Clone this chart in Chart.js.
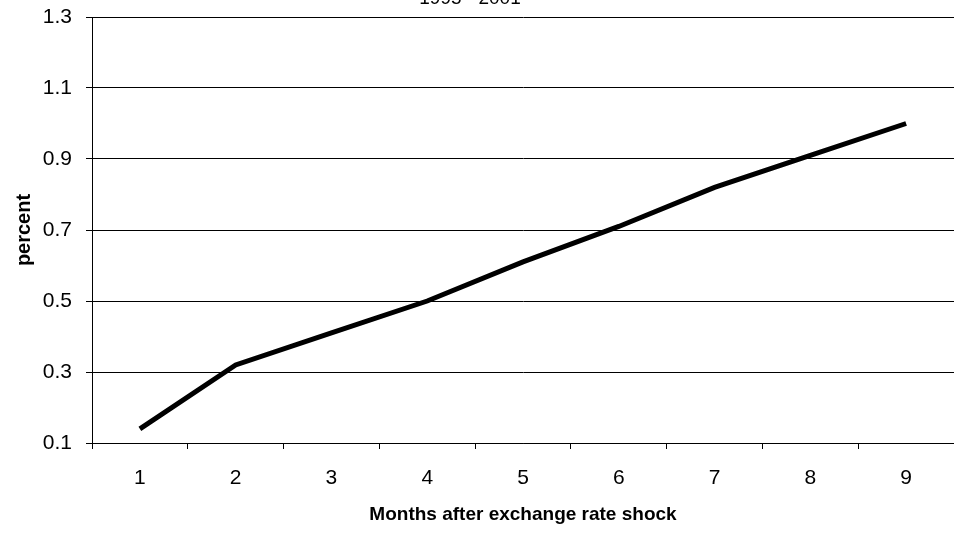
<!DOCTYPE html>
<html>
<head>
<meta charset="utf-8">
<script src="https://cdn.jsdelivr.net/npm/chart.js@4/dist/chart.umd.min.js"></script>
<style>
  html, body { margin: 0; padding: 0; background: #fff; }
  #wrap { width: 954px; height: 533px; }
</style>
</head>
<body>
<div id="wrap"><canvas id="shockChart"></canvas></div>
<script>
// 為替ショック後の月数と変化率
const months = ['1', '2', '3', '4', '5', '6', '7', '8', '9'];
const passThrough = [0.14, 0.32, 0.41, 0.50, 0.61, 0.71, 0.82, 0.91, 1.00];
const yTicks = [0.1, 0.3, 0.5, 0.7, 0.9, 1.1, 1.3];
const topTitle = '1995 - 2001';

// 上端で切れているタイトル
const cutTitle = {
  id: 'cutTitle',
  afterDraw(chart) {
    const c = chart.ctx;
    c.save();
    c.fillStyle = '#000';
    c.font = '19px "Liberation Sans", Arial, sans-serif';
    c.textAlign = 'center';
    c.textBaseline = 'bottom';
    c.fillText(topTitle, 470, 8);
    c.restore();
  }
};

let ctx = document.getElementById('shockChart').getContext('2d');
window.shockChart = new Chart(ctx, {
  type: 'line',
  data: {
    labels: months,
    datasets: [{
      data: passThrough,
      borderColor: '#000',
      borderWidth: 5,
      pointRadius: 0,
      tension: 0,
      fill: false
    }]
  },
  options: {
    animation: false,
    responsive: true,
    maintainAspectRatio: false,
    layout: { padding: { top: 17, right: 0, bottom: 5, left: 0 } },
    plugins: {
      legend: { display: false },
      tooltip: { enabled: false }
    },
    scales: {
      x: {
        offset: true,
        grid: {
          offset: true,
          drawOnChartArea: false,
          color: '#000',
          tickLength: 6
        },
        border: { color: '#000', width: 1 },
        ticks: {
          color: '#000',
          padding: 17,
          maxRotation: 0,
          font: { family: '"Liberation Sans", Arial, sans-serif', size: 21 }
        },
        title: {
          display: true,
          text: 'Months after exchange rate shock',
          color: '#000',
          padding: { top: 0, bottom: 2 },
          font: { family: '"Liberation Sans", Arial, sans-serif', size: 19, weight: 'bold' }
        },
        afterFit(scale) {
          scale.height = 85;
          scale.paddingLeft = 0;
          scale.paddingRight = 0;
        }
      },
      y: {
        min: 0.1,
        max: 1.3,
        afterBuildTicks(scale) { scale.ticks = yTicks.map(v => ({ value: v })); },
        grid: {
          color: '#000',
          lineWidth: 1,
          tickLength: 6
        },
        border: { color: '#000', width: 1 },
        ticks: {
          color: '#000',
          padding: 14,
          callback: v => v.toFixed(1),
          font: { family: '"Liberation Sans", Arial, sans-serif', size: 21 }
        },
        title: {
          display: true,
          text: 'percent',
          color: '#000',
          padding: { top: 12, bottom: 0 },
          font: { family: '"Liberation Sans", Arial, sans-serif', size: 20, weight: 'bold' }
        },
        afterFit(scale) {
          scale.width = 92;
          scale.paddingTop = 0;
          scale.paddingBottom = 0;
        }
      }
    }
  },
  plugins: [cutTitle]
});
</script>
</body>
</html>
